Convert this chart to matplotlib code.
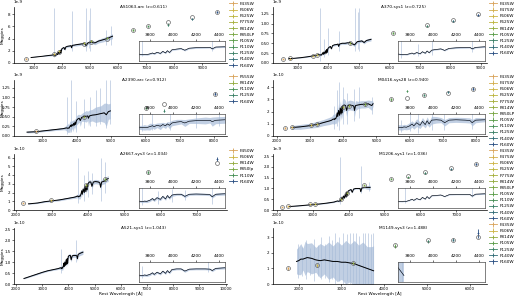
import matplotlib
matplotlib.use('Agg')
import matplotlib.pyplot as plt
from matplotlib.ticker import MultipleLocator

plt.rcParams['axes.unicode_minus'] = False
plt.rcParams['font.family'] = ['DejaVu Sans']

# ---------------- shared --------------------------------------------------
feat_wave = [3700, 3734, 3750, 3771, 3798, 3820, 3835, 3860, 3889, 3910, 3934, 3950,
             3968, 3990, 4030, 4070, 4102, 4140, 4200, 4280, 4320, 4340, 4370, 4450]

filter_colors = {
    'F435W': '#d9a45c', 'F450W': '#d9a45c', 'F475W': '#d3ae4c', 'F555W': '#d9a45c',
    'F606W': '#cdb545', 'F625W': '#bdb53e', 'F775W': '#a6b03c', 'F814W': '#93ac3e',
    'F850LP': '#78a642', 'F850lp': '#78a642', 'F105W': '#5a9c48', 'F110W': '#468f55',
    'F125W': '#3a8065', 'F140W': '#316c76', 'F160W': '#2a4f82',
}

# ---------------- panel 1 : AS1063-arc ------------------------------------
p1_title = 'AS1063-arc (z=0.611)'
p1_scale = 1e-8
p1_wave = [2900, 3300, 3550, 3650] + feat_wave + [4500, 4650, 4800, 4861, 4920, 5050, 5175, 5300, 5450, 5600, 5800]
p1_flux = [0.09, 0.11, 0.125, 0.13,
           0.135, 0.125, 0.13, 0.125, 0.14, 0.16, 0.14, 0.175, 0.15, 0.195, 0.16, 0.21,
           0.17, 0.23, 0.245, 0.255, 0.22, 0.265, 0.275, 0.28, 0.285, 0.25, 0.29, 0.295,
           0.3, 0.31, 0.32, 0.285, 0.33, 0.345, 0.33, 0.36, 0.38, 0.4, 0.44]
p1_err = [0.0, 0.0, 0.01, 0.012,
          0.015, 0.015, 0.015, 0.015, 0.015, 0.015, 0.015, 0.015, 0.015, 0.015, 0.015, 0.015,
          0.015, 0.015, 0.015, 0.015, 0.015, 0.015, 0.015, 0.015, 0.015, 0.02, 0.015, 0.015,
          0.02, 0.02, 0.025, 0.03, 0.025, 0.025, 0.03, 0.03, 0.035, 0.035, 0.04]
p1_spike_wave = [3727, 4340, 4861, 4959, 5007, 5577, 5750]
p1_spike_lo = [0.1, 0.2, 0.2, 0.25, 0.2, 0.3, 0.3]
p1_spike_hi = [0.9, 0.85, 0.9, 0.7, 0.9, 0.55, 0.6]
p1_filters = ['F435W', 'F606W', 'F625W', 'F775W', 'F814W', 'F850LP', 'F105W', 'F110W', 'F125W', 'F140W', 'F160W']
p1_phot_wave = [2700, 3730, 3880, 4800, 5040, 5600, 6540, 7050, 7760, 8640, 9530]
p1_phot_model = [0.07, 0.15, 0.18, 0.32, 0.35, 0.4, 0.54, 0.6, 0.67, 0.75, 0.84]
p1_phot_obs = [0.07, 0.15, 0.19, 0.33, 0.36, 0.41, 0.54, 0.6, 0.63, 0.72, 0.84]
p1_phot_err = [0.01, 0.01, 0.01, 0.01, 0.01, 0.015, 0.015, 0.015, 0.02, 0.02, 0.02]

# ---------------- panel 2 : A370-sys1 -------------------------------------
p2_title = 'A370-sys1 (z=0.725)'
p2_scale = 1e-9
p2_wave = [2700, 2900, 3100, 3300, 3500, 3650] + feat_wave + [4550, 4700, 4861, 4950, 5100, 5175, 5250, 5400]
p2_flux = [0.11, 0.12, 0.135, 0.155, 0.18, 0.2,
           0.22, 0.2, 0.21, 0.2, 0.23, 0.26, 0.22, 0.28, 0.23, 0.31, 0.25, 0.34,
           0.27, 0.37, 0.4, 0.42, 0.36, 0.44, 0.46, 0.47, 0.48, 0.42, 0.48, 0.5,
           0.5, 0.52, 0.46, 0.54, 0.56, 0.52, 0.57, 0.6]
p2_err = [0.0, 0.005, 0.008, 0.01, 0.012, 0.015,
          0.02, 0.02, 0.02, 0.02, 0.02, 0.02, 0.02, 0.02, 0.02, 0.02, 0.02, 0.02,
          0.02, 0.02, 0.02, 0.02, 0.02, 0.02, 0.025, 0.025, 0.025, 0.03, 0.025, 0.025,
          0.03, 0.03, 0.04, 0.03, 0.03, 0.035, 0.035, 0.04]
p2_spike_wave = [3727, 3869, 3990, 4340, 4861, 4959, 5007]
p2_spike_lo = [0.05, 0.15, 0.2, 0.3, 0.3, 0.35, 0.3]
p2_spike_hi = [1.4, 0.6, 0.9, 0.8, 1.4, 1.3, 1.4]
p2_filters = ['F435W', 'F475W', 'F606W', 'F625W', 'F814W', 'F105W', 'F125W', 'F140W', 'F160W']
p2_phot_wave = [2520, 2750, 3510, 3620, 4720, 6120, 7250, 8070, 8910]
p2_phot_model = [0.1, 0.115, 0.18, 0.2, 0.5, 0.77, 0.96, 1.08, 1.23]
p2_phot_obs = [0.1, 0.11, 0.18, 0.21, 0.5, 0.76, 0.95, 1.06, 1.22]
p2_phot_err = [0.01, 0.01, 0.01, 0.01, 0.02, 0.02, 0.02, 0.03, 0.03]

# ---------------- panel 3 : A2390-arc -------------------------------------
p3_title = 'A2390-arc (z=0.912)'
p3_scale = 1e-9
p3_wave = [2550, 2800, 3000, 3200, 3400, 3600, 3650] + feat_wave + [4550, 4700, 4800, 4861, 4920, 4980]
p3_flux = [0.1, 0.11, 0.13, 0.15, 0.17, 0.19, 0.2,
           0.21, 0.2, 0.21, 0.2, 0.24, 0.28, 0.24, 0.3, 0.26, 0.33, 0.28, 0.36,
           0.3, 0.4, 0.44, 0.46, 0.4, 0.48, 0.5, 0.51, 0.52, 0.46, 0.52, 0.54,
           0.55, 0.58, 0.6, 0.55, 0.63, 0.65]
p3_err = [0.02, 0.02, 0.02, 0.025, 0.025, 0.03, 0.04,
          0.08, 0.1, 0.12, 0.1, 0.15, 0.1, 0.12, 0.1, 0.15, 0.1, 0.12, 0.1,
          0.15, 0.12, 0.12, 0.1, 0.15, 0.1, 0.12, 0.15, 0.12, 0.2, 0.15, 0.15,
          0.2, 0.2, 0.25, 0.3, 0.2, 0.2]
p3_spike_wave = [3727, 3820, 3970, 4200, 4400, 4560, 4690, 4861, 4980]
p3_spike_lo = [0.05, 0.1, 0.1, 0.2, 0.25, 0.25, 0.3, 0.2, 0.3]
p3_spike_hi = [1.0, 1.45, 0.9, 0.95, 1.0, 1.2, 1.25, 1.45, 1.45]
p3_filters = ['F555W', 'F814W', 'F110W', 'F125W', 'F160W']
p3_phot_wave = [2800, 4200, 6010, 6530, 8040]
p3_phot_model = [0.12, 0.5, 0.72, 0.82, 1.1]
p3_phot_obs = [0.12, 0.5, 0.72, 0.66, 1.1]
p3_phot_err = [0.01, 0.02, 0.03, 0.03, 0.03]

# ---------------- panel 4 : M0416-sys28 -----------------------------------
p4_title = 'M0416-sys28 (z=0.940)'
p4_scale = 1e-10
p4_wave = [2450, 2700, 3000, 3200, 3400, 3600, 3650] + feat_wave + [4550, 4650, 4750, 4861, 4900]
p4_flux = [0.7, 0.75, 0.85, 0.95, 1.1, 1.25, 1.3,
           1.4, 1.35, 1.45, 1.4, 1.6, 1.9, 1.6, 2.1, 1.7, 2.3, 1.8, 2.4,
           1.9, 2.5, 2.55, 2.5, 2.1, 2.5, 2.55, 2.5, 2.45, 2.1, 2.5, 2.55,
           2.6, 2.6, 2.65, 2.5, 2.65]
p4_err = [0.15, 0.2, 0.2, 0.25, 0.25, 0.3, 0.3,
          0.4, 0.4, 0.4, 0.4, 0.5, 0.5, 0.5, 0.6, 0.5, 0.6, 0.5, 0.6,
          0.5, 0.6, 0.5, 0.4, 0.5, 0.4, 0.4, 0.4, 0.4, 0.5, 0.4, 0.3,
          0.3, 0.3, 0.3, 0.4, 0.2]
p4_spike_wave = [3727, 3800, 3870, 3990, 4100, 4340, 4470, 4861]
p4_spike_lo = [0.6, 0.8, 0.5, 1.0, 1.0, 1.2, 1.5, 1.8]
p4_spike_hi = [2.5, 3.8, 4.4, 4.0, 3.5, 3.9, 4.0, 3.2]
p4_filters = ['F435W', 'F475W', 'F606W', 'F625W', 'F775W', 'F814W', 'F850LP', 'F105W', 'F110W', 'F125W', 'F140W', 'F160W']
p4_phot_wave = [2240, 2450, 3030, 3220, 3990, 4160, 4670, 5440, 5930, 6440, 7170, 7920]
p4_phot_model = [0.65, 0.7, 0.9, 0.95, 2.4, 2.5, 2.6, 3.0, 3.15, 3.35, 3.55, 3.85]
p4_phot_obs = [0.65, 0.7, 0.9, 0.95, 2.4, 2.5, 2.6, 3.0, 3.7, 3.35, 3.6, 3.9]
p4_phot_err = [0.05, 0.05, 0.05, 0.05, 0.1, 0.1, 0.1, 0.1, 0.1, 0.1, 0.1, 0.15]

# ---------------- panel 5 : A2667-sys3 ------------------------------------
p5_title = 'A2667-sys3 (z=1.034)'
p5_scale = 1e-10
p5_wave = [2350, 2600, 2800, 3000, 3200, 3400, 3600, 3650] + feat_wave + [4500, 4550]
p5_flux = [0.7, 0.8, 0.95, 1.05, 1.15, 1.3, 1.45, 1.5,
           1.6, 1.5, 1.6, 1.55, 1.8, 2.2, 1.8, 2.4, 2.0, 2.7, 2.1, 2.9,
           2.3, 3.0, 3.2, 3.2, 2.7, 3.2, 3.25, 3.2, 3.1, 2.6, 3.2, 3.3,
           3.5, 3.6]
p5_err = [0.05, 0.05, 0.08, 0.08, 0.1, 0.1, 0.12, 0.15,
          0.2, 0.25, 0.3, 0.3, 0.3, 0.3, 0.3, 0.3, 0.3, 0.3, 0.3, 0.3,
          0.3, 0.3, 0.25, 0.25, 0.3, 0.25, 0.25, 0.25, 0.25, 0.3, 0.3, 0.3,
          0.3, 0.35]
p5_spike_wave = [3727, 3870, 3990, 4100, 4340, 4470]
p5_spike_lo = [0.8, 1.0, 1.5, 1.8, 1.0, 2.0]
p5_spike_hi = [6.0, 4.0, 4.5, 4.2, 6.0, 5.5]
p5_filters = ['F450W', 'F606W', 'F814W', 'F850lp', 'F110W', 'F160W']
p5_phot_wave = [2210, 2980, 3950, 4460, 5650, 7560]
p5_phot_model = [0.8, 1.1, 2.9, 3.5, 4.3, 5.4]
p5_phot_obs = [0.8, 1.1, 2.9, 3.5, 4.3, 5.85]
p5_phot_err = [0.05, 0.05, 0.1, 0.15, 0.15, 0.2]

# ---------------- panel 6 : M1206-sys1 ------------------------------------
p6_title = 'M1206-sys1 (z=1.036)'
p6_scale = 1e-9
p6_wave = [2350, 2600, 2800, 3000, 3200, 3400, 3600, 3650] + feat_wave + [4500, 4600]
p6_flux = [0.16, 0.19, 0.22, 0.25, 0.28, 0.32, 0.37, 0.4,
           0.42, 0.4, 0.43, 0.42, 0.5, 0.6, 0.5, 0.65, 0.55, 0.75, 0.6, 0.82,
           0.65, 0.88, 0.92, 0.95, 0.82, 0.97, 1.0, 1.0, 1.0, 0.85, 1.02, 1.05,
           1.05, 1.05]
p6_err = [0.01, 0.01, 0.01, 0.015, 0.015, 0.02, 0.02, 0.02,
          0.03, 0.03, 0.03, 0.03, 0.03, 0.03, 0.03, 0.03, 0.03, 0.03, 0.03, 0.03,
          0.03, 0.03, 0.03, 0.03, 0.03, 0.03, 0.03, 0.03, 0.03, 0.04, 0.04, 0.05,
          0.08, 0.1]
p6_spike_wave = [3760, 4340, 4560]
p6_spike_lo = [0.3, 0.8, 0.9]
p6_spike_hi = [2.45, 2.05, 1.3]
p6_filters = ['F435W', 'F475W', 'F606W', 'F625W', 'F775W', 'F814W', 'F850LP', 'F105W', 'F110W', 'F125W', 'F140W', 'F160W']
p6_phot_wave = [2140, 2330, 2920, 3070, 3800, 3950, 4420, 5180, 5660, 6140, 6840, 7550]
p6_phot_model = [0.15, 0.17, 0.27, 0.3, 0.5, 0.8, 1.15, 1.45, 1.58, 1.75, 1.95, 2.15]
p6_phot_obs = [0.15, 0.17, 0.27, 0.3, 0.5, 0.8, 1.15, 1.45, 1.52, 1.72, 1.92, 2.12]
p6_phot_err = [0.01, 0.01, 0.01, 0.01, 0.02, 0.02, 0.03, 0.03, 0.03, 0.04, 0.04, 0.05]

# ---------------- panel 7 : A521-sys1 -------------------------------------
p7_title = 'A521-sys1 (z=1.043)'
p7_scale = 1e-10
p7_wave = [2300, 2500, 2800, 3000, 3200, 3400, 3600, 3650] + feat_wave + [4550]
p7_flux = [0.25, 0.33, 0.45, 0.53, 0.6, 0.65, 0.7, 0.72,
           0.74, 0.7, 0.75, 0.72, 0.8, 0.95, 0.8, 1.0, 0.85, 1.1, 0.9, 1.15,
           0.95, 1.25, 1.3, 1.3, 1.1, 1.28, 1.3, 1.3, 1.28, 1.15, 1.35, 1.4,
           1.45]
p7_err = [0.02, 0.02, 0.03, 0.03, 0.03, 0.03, 0.04, 0.05,
          0.08, 0.08, 0.1, 0.1, 0.1, 0.1, 0.1, 0.1, 0.1, 0.1, 0.1, 0.1,
          0.1, 0.1, 0.08, 0.08, 0.1, 0.08, 0.08, 0.08, 0.08, 0.1, 0.1, 0.1,
          0.1]
p7_spike_wave = [3727, 4300]
p7_spike_lo = [0.5, 1.0]
p7_spike_hi = [1.6, 2.0]
p7_filters = []
p7_phot_wave = []
p7_phot_model = []
p7_phot_obs = []
p7_phot_err = []

# ---------------- panel 8 : M1149-sys3 ------------------------------------
p8_title = 'M1149-sys3 (z=1.488)'
p8_scale = 1e-10
p8_wave = [1950, 2000, 2050, 2100, 2150, 2200, 2300, 2400, 2500, 2600, 2700,
           2800, 2900, 3000, 3100, 3200, 3300, 3400, 3500, 3600, 3700, 3750]
p8_flux = [1.45, 1.5, 1.6, 1.6, 1.65, 1.7, 1.65, 1.55, 1.5, 1.55, 1.5,
           1.45, 1.45, 1.4, 1.4, 1.35, 1.3, 1.2, 1.1, 1.0, 0.9, 0.85]
p8_err = [0.8, 0.9, 1.0, 0.7, 1.1, 0.9, 1.0, 0.8, 1.1, 0.9, 1.2,
          1.0, 1.3, 1.1, 1.4, 1.2, 1.5, 1.3, 1.6, 1.4, 1.5, 1.6]
p8_spike_wave = [1980, 2080, 2180, 2260, 2350, 2450, 2520, 2620, 2700, 2780, 2860, 2950,
                 3030, 3120, 3200, 3280, 3350, 3420, 3500, 3560, 3620, 3680, 3730]
p8_spike_lo = [0.4, 0.5, 0.3, 0.6, 0.2, 0.5, 0.3, 0.4, 0.1, 0.3, 0.0, 0.2,
               0.0, 0.2, 0.0, 0.1, 0.0, 0.0, 0.0, 0.0, 0.0, 0.0, 0.0]
p8_spike_hi = [2.6, 2.4, 2.8, 2.3, 2.9, 2.5, 3.0, 2.6, 3.1, 2.8, 3.3, 3.0,
               3.3, 3.2, 3.3, 3.3, 3.3, 3.1, 3.3, 3.3, 3.3, 3.2, 3.3]
p8_filters = ['F435W', 'F606W', 'F814W', 'F105W', 'F125W', 'F140W', 'F160W']
p8_phot_wave = [1750, 2430, 3270, 4240, 5020, 5600, 6180]
p8_phot_model = [1.0, 1.2, 1.35, 2.5, 2.8, 2.85, 3.05]
p8_phot_obs = [1.0, 1.2, 1.35, 2.45, 2.75, 2.85, 3.25]
p8_phot_err = [0.08, 0.08, 0.08, 0.12, 0.1, 0.1, 0.3]

# ---------------- layout (not data) ---------------------------------------
W, H = 520, 299
col_left = [14, 273]
col_width = [213, 214]
row_top = [7, 80, 154, 228]
row_h = 56

panels = [
    dict(title=p1_title, scale=p1_scale, wave=p1_wave, flux=p1_flux, err=p1_err,
         sw=p1_spike_wave, slo=p1_spike_lo, shi=p1_spike_hi, filters=p1_filters,
         pw=p1_phot_wave, pm=p1_phot_model, po=p1_phot_obs, pe=p1_phot_err,
         xlim=(2290, 9880), ylim=(0, 0.92), ystep=0.2),
    dict(title=p2_title, scale=p2_scale, wave=p2_wave, flux=p2_flux, err=p2_err,
         sw=p2_spike_wave, slo=p2_spike_lo, shi=p2_spike_hi, filters=p2_filters,
         pw=p2_phot_wave, pm=p2_phot_model, po=p2_phot_obs, pe=p2_phot_err,
         xlim=(2190, 9200), ylim=(0, 1.42), ystep=0.25),
    dict(title=p3_title, scale=p3_scale, wave=p3_wave, flux=p3_flux, err=p3_err,
         sw=p3_spike_wave, slo=p3_spike_lo, shi=p3_spike_hi, filters=p3_filters,
         pw=p3_phot_wave, pm=p3_phot_model, po=p3_phot_obs, pe=p3_phot_err,
         xlim=(2170, 8380), ylim=(0, 1.45), ystep=0.25),
    dict(title=p4_title, scale=p4_scale, wave=p4_wave, flux=p4_flux, err=p4_err,
         sw=p4_spike_wave, slo=p4_spike_lo, shi=p4_spike_hi, filters=p4_filters,
         pw=p4_phot_wave, pm=p4_phot_model, po=p4_phot_obs, pe=p4_phot_err,
         xlim=(1880, 8340), ylim=(0, 4.6), ystep=1),
    dict(title=p5_title, scale=p5_scale, wave=p5_wave, flux=p5_flux, err=p5_err,
         sw=p5_spike_wave, slo=p5_spike_lo, shi=p5_spike_hi, filters=p5_filters,
         pw=p5_phot_wave, pm=p5_phot_model, po=p5_phot_obs, pe=p5_phot_err,
         xlim=(1950, 7830), ylim=(0, 6.4), ystep=1),
    dict(title=p6_title, scale=p6_scale, wave=p6_wave, flux=p6_flux, err=p6_err,
         sw=p6_spike_wave, slo=p6_spike_lo, shi=p6_spike_hi, filters=p6_filters,
         pw=p6_phot_wave, pm=p6_phot_model, po=p6_phot_obs, pe=p6_phot_err,
         xlim=(1900, 7850), ylim=(0, 2.6), ystep=0.5),
    dict(title=p7_title, scale=p7_scale, wave=p7_wave, flux=p7_flux, err=p7_err,
         sw=p7_spike_wave, slo=p7_spike_lo, shi=p7_spike_hi, filters=p7_filters,
         pw=p7_phot_wave, pm=p7_phot_model, po=p7_phot_obs, pe=p7_phot_err,
         xlim=(1920, 10050), ylim=(0, 2.55), ystep=0.5),
    dict(title=p8_title, scale=p8_scale, wave=p8_wave, flux=p8_flux, err=p8_err,
         sw=p8_spike_wave, slo=p8_spike_lo, shi=p8_spike_hi, filters=p8_filters,
         pw=p8_phot_wave, pm=p8_phot_model, po=p8_phot_obs, pe=p8_phot_err,
         xlim=(1400, 6400), ylim=(0, 3.6), ystep=1),
]

band_color = '#a7bbd8'
fs_tick = 2.9
fs_txt = 3.1

fig = plt.figure(figsize=(W / 100, H / 100), dpi=100)


def draw_spec(ax, p, lw_line=0.7):
    s = p['scale']
    wave = p['wave']
    flux = [f * s for f in p['flux']]
    lo = [(f - e) * s for f, e in zip(p['flux'], p['err'])]
    hi = [(f + e) * s for f, e in zip(p['flux'], p['err'])]
    ax.fill_between(wave, lo, hi, color=band_color, alpha=0.7, lw=0)
    ax.vlines(p['sw'], [v * s for v in p['slo']], [v * s for v in p['shi']],
              color=band_color, lw=0.5, alpha=0.85)
    ax.plot(wave, flux, color='#6f8dbb', lw=0.3)
    ax.plot(wave, flux, color='black', lw=lw_line)


for i, p in enumerate(panels):
    col = i % 2
    row = i // 2
    l = col_left[col] / W
    w = col_width[col] / W
    b = 1 - (row_top[row] + row_h) / H
    h = row_h / H
    ax = fig.add_axes([l, b, w, h])
    s = p['scale']

    draw_spec(ax, p)

    # photometry
    for f, x, m, o, e in zip(p['filters'], p['pw'], p['pm'], p['po'], p['pe']):
        c = filter_colors[f]
        ax.errorbar([x], [o * s], yerr=[e * s], fmt='+-', color=c, ms=2, mew=0.5,
                    lw=0.6, elinewidth=0.6, label=f)
        ax.plot([x], [m * s], 'o', mfc='none', mec='0.4', ms=2.8, mew=0.5)

    ax.set_xlim(*p['xlim'])
    ax.set_ylim(p['ylim'][0] * s, p['ylim'][1] * s)
    ax.xaxis.set_major_locator(MultipleLocator(1000))
    ax.yaxis.set_major_locator(MultipleLocator(p['ystep'] * s))
    ax.tick_params(labelsize=fs_tick, length=1.5, width=0.4, pad=1)
    ax.yaxis.get_offset_text().set_fontsize(fs_tick)
    for sp in ['top', 'right']:
        ax.spines[sp].set_visible(False)
    for sp in ['left', 'bottom']:
        ax.spines[sp].set_linewidth(0.5)

    ax.text(0.61, 1.0, p['title'], transform=ax.transAxes, ha='center', va='center',
            fontsize=fs_txt)
    if col == 0:
        ax.set_ylabel('Maggies', fontsize=fs_txt)
        ax.yaxis.set_label_coords(-0.042, 0.5)
    if row == 3:
        ax.set_xlabel('Rest Wavelength [Å]', fontsize=fs_txt, labelpad=0)

    if p['filters']:
        ax.legend(loc='upper left', bbox_to_anchor=(1.01, 1.09), fontsize=fs_txt,
                  frameon=False, handlelength=1.9, labelspacing=0.5,
                  borderaxespad=0, borderpad=0, handletextpad=0.6)

    # inset zoom on the Balmer / 4000A break region
    ins = ax.inset_axes([0.585, 0.04, 0.405, 0.36])
    draw_spec(ins, p, lw_line=0.4)
    ins.set_xlim(3700, 4450)
    inr = [f for x, f in zip(p['wave'], p['flux']) if 3700 <= x <= 4450]
    if inr:
        lo_v, hi_v = min(inr), max(inr)
        pad = (hi_v - lo_v) * 0.8
        ins.set_ylim((lo_v - pad) * s, (hi_v + pad) * s)
    else:
        ins.set_ylim(0, 1)
    ins.xaxis.set_major_locator(MultipleLocator(200))
    ins.xaxis.tick_top()
    ins.set_yticks([])
    ins.tick_params(labelsize=fs_txt, length=1.5, width=0.4, pad=1)
    for sp in ins.spines.values():
        sp.set_linewidth(0.5)
        sp.set_color('0.3')

fig.savefig('out.png', dpi=100)
